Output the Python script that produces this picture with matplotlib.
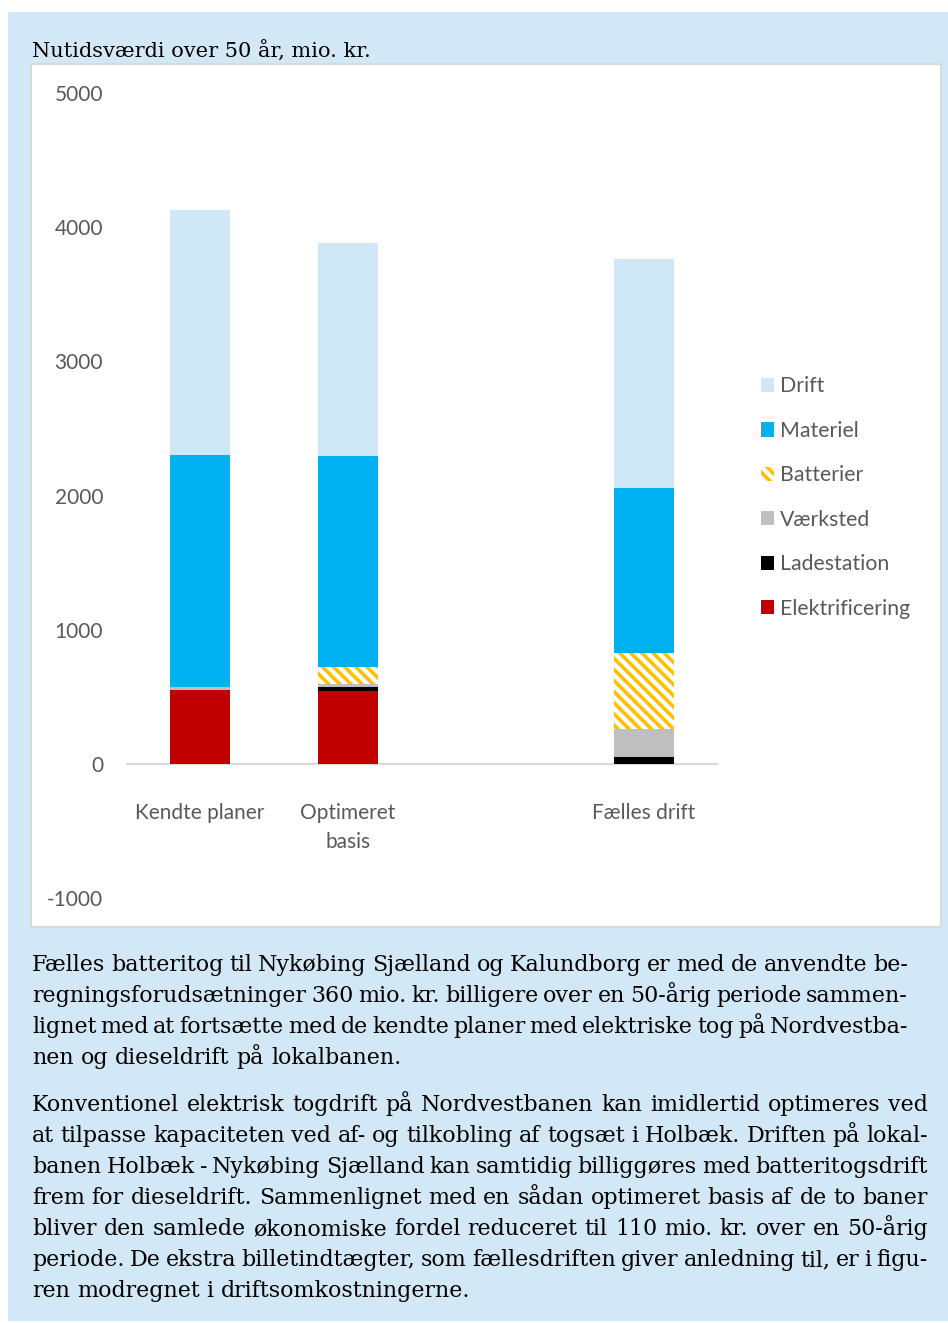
import matplotlib
matplotlib.use("Agg")
import matplotlib.pyplot as plt
from matplotlib.patches import Patch, Rectangle
from matplotlib.font_manager import FontProperties
import numpy as np

plt.rcParams["font.family"] = ["Lato", "DejaVu Sans"]
plt.rcParams["hatch.linewidth"] = 2.6

# data, mio. kr.
categories = ["Kendte planer", "Optimeret\nbasis", "", "Fælles drift"]
series = ["Elektrificering", "Ladestation", "Værksted", "Batterier", "Materiel", "Drift"]
elektrificering = [550, 545, 0, 0]
ladestation = [0, 25, 0, 50]
vaerksted = [25, 25, 0, 211]
batterier = [0, 125, 0, 564]
materiel = [1725, 1575, 0, 1232]
drift = [1830, 1587, 0, 1706]
yticks = [-1000, 0, 1000, 2000, 3000, 4000, 5000]

title = "Nutidsværdi over 50 år, mio. kr."
para1 = [
    "Fælles batteritog til Nykøbing Sjælland og Kalundborg er med de anvendte be-",
    "regningsforudsætninger 360 mio. kr. billigere over en 50-årig periode sammen-",
    "lignet med at fortsætte med de kendte planer med elektriske tog på Nordvestba-",
    "nen og dieseldrift på lokalbanen.",
]
para2 = [
    "Konventionel elektrisk togdrift på Nordvestbanen kan imidlertid optimeres ved",
    "at tilpasse kapaciteten ved af- og tilkobling af togsæt i Holbæk. Driften på lokal-",
    "banen Holbæk - Nykøbing Sjælland kan samtidig billiggøres med batteritogsdrift",
    "frem for dieseldrift. Sammenlignet med en sådan optimeret basis af de to baner",
    "bliver den samlede økonomiske fordel reduceret til 110 mio. kr. over en 50-årig",
    "periode. De ekstra billetindtægter, som fællesdriften giver anledning til, er i figu-",
    "ren modregnet i driftsomkostningerne.",
]

colors = {
    "Elektrificering": "#c00000",
    "Ladestation": "#000000",
    "Værksted": "#bfbfbf",
    "Batterier": "#ffc000",
    "Materiel": "#00b0f0",
    "Drift": "#d0e7f7",
}
BG = "#d3e8f6"
GREY = "#595959"

W, H = 948, 1323
fig = plt.figure(figsize=(W / 100, H / 100), dpi=100)
fig.patch.set_facecolor("white")


def fx(px):
    return px / W


def fy(py):
    return 1 - py / H


# blue box and white chart panel
fig.add_artist(Rectangle((fx(8), fy(1321)), fx(948) - fx(8), fy(12) - fy(1321),
                         transform=fig.transFigure, facecolor=BG, edgecolor="none", zorder=-2))
fig.add_artist(Rectangle((fx(31), fy(927)), fx(941) - fx(31), fy(64) - fy(927),
                         transform=fig.transFigure, facecolor="white", edgecolor="#d9d9d9",
                         lw=1.5, zorder=-1))

ax = fig.add_axes([fx(126), fy(898), fx(718) - fx(126), fy(93) - fy(898)])
ax.patch.set_alpha(0)

x = np.arange(len(categories))
values = [elektrificering, ladestation, vaerksted, batterier, materiel, drift]
bottom = np.zeros(len(categories))
for name, vals in zip(series, values):
    vals = np.array(vals, dtype=float)
    if name == "Batterier":
        ax.bar(x, vals, 0.405, bottom=bottom, facecolor="white", edgecolor=colors[name],
               hatch="\\\\\\", lw=0)
    else:
        ax.bar(x, vals, 0.405, bottom=bottom, color=colors[name], lw=0)
    bottom += vals

ax.axhline(0, color="#d9d9d9", lw=1.5, zorder=0)
ax.set_xlim(-0.5, len(categories) - 0.5)
ax.set_ylim(-1000, 5000)
ax.set_yticks(yticks)
ax.set_yticklabels([str(t) for t in yticks])
ax.tick_params(axis="y", length=0, pad=16.5, labelsize=15, labelcolor=GREY)
ax.set_xticks([])
for s in ax.spines.values():
    s.set_visible(False)
for i, c in enumerate(categories):
    ax.text(x[i], -290, c, ha="center", va="top", fontsize=15, color=GREY, linespacing=1.6)

# legend, top entry first
handles = []
for name in series[::-1]:
    if name == "Batterier":
        handles.append(Patch(facecolor="white", edgecolor=colors[name], hatch="\\\\\\", lw=0))
    else:
        handles.append(Patch(facecolor=colors[name], lw=0))
fig.legend(handles, series[::-1], loc="upper left", bbox_to_anchor=(fx(752), fy(368)),
           frameon=False, fontsize=15.3, labelcolor=GREY, handlelength=0.65, handleheight=0.65,
           handletextpad=0.28, labelspacing=1.15, borderaxespad=0)

# serif texts
fig.text(fx(32), fy(57), title, family="DejaVu Serif", fontsize=15, color="black", va="baseline")

renderer = fig.canvas.get_renderer()


def width(s, prop):
    return renderer.get_text_width_height_descent(s, prop, ismath=False)[0]


def space_width(prop):
    return width("a a", prop) - width("aa", prop)


paras = [(para1, 32, 908), (para2, 32, 928)]

# largest body size where every justified line still fits
size = 16.5
while size > 10:
    serif = FontProperties(family="DejaVu Serif", size=size)
    sw = space_width(serif)
    ok = True
    for lines, x0, x1 in paras:
        for line in lines[:-1]:
            words = line.split(" ")
            need = sum(width(w, serif) for w in words) + 0.6 * sw * (len(words) - 1)
            if need > x1 - x0:
                ok = False
    if ok:
        break
    size -= 0.1
serif = FontProperties(family="DejaVu Serif", size=size)
space_w = space_width(serif)


def put_paragraph(lines, y0, step, x0, x1):
    for k, line in enumerate(lines):
        y = y0 + k * step
        words = line.split(" ")
        widths = [width(w, serif) for w in words]
        if k == len(lines) - 1 or len(words) == 1:
            gap = space_w
        else:
            gap = (x1 - x0 - sum(widths)) / (len(words) - 1)
        xp = x0
        for w, ww in zip(words, widths):
            fig.text(fx(xp), fy(y), w, fontproperties=serif, color="black", va="baseline")
            xp += ww + gap


put_paragraph(para1, 971, 31, 32, 908)
put_paragraph(para2, 1111, 31, 32, 928)

fig.savefig("out.png", dpi=100, facecolor=fig.get_facecolor())
